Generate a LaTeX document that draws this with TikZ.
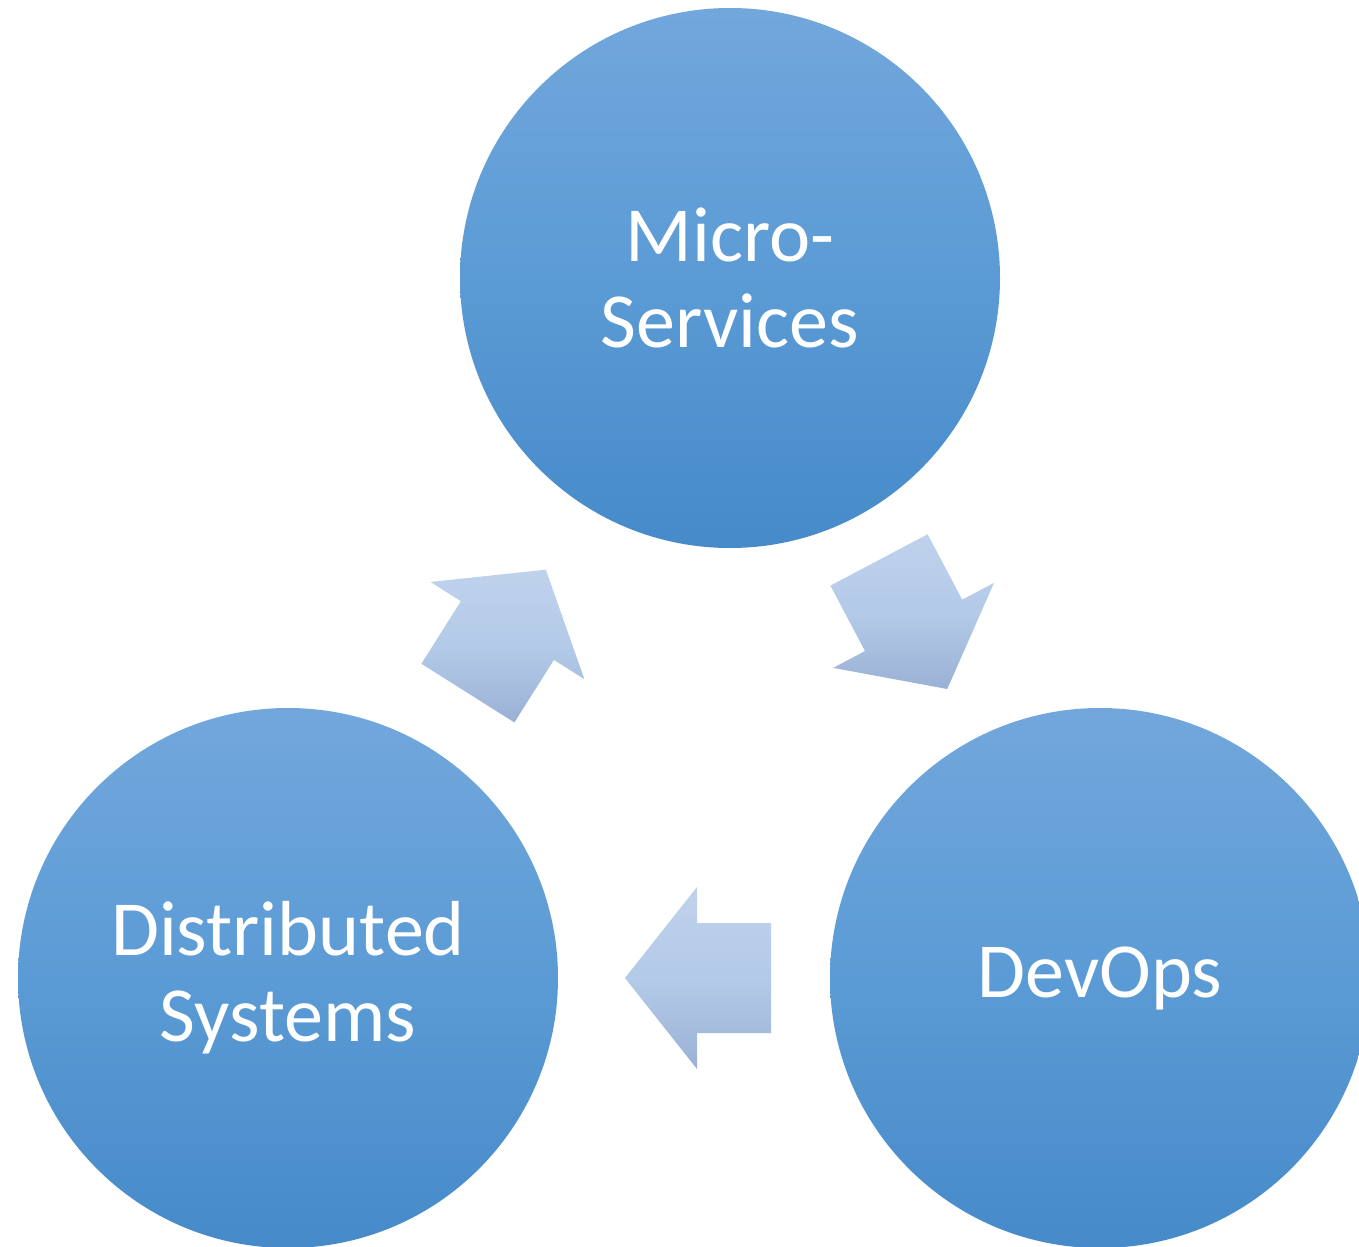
\documentclass[tikz,border=0pt]{standalone}
\usepackage{fontspec}
\setmainfont{Carlito}
\usetikzlibrary{calc}

\definecolor{bubbletop}{HTML}{72A7DC}
\definecolor{bubblemid}{HTML}{5B9BD5}
\definecolor{bubblebot}{HTML}{468AC9}
\definecolor{flowtop}{HTML}{BFD2EC}
\definecolor{flowmid}{HTML}{B3CAE8}
\definecolor{flowbot}{HTML}{9AB1D5}

\begin{document}
\begin{tikzpicture}[
        bubble/.style={circle,minimum size=5.4cm,inner sep=0pt,
            top color=bubbletop,bottom color=bubblebot,middle color=bubblemid,
            text=white,align=center,font=\fontsize{22.2}{24.5}\selectfont},
        flow/.style={top color=flowtop,bottom color=flowbot,middle color=flowmid,draw=none}]

    \useasboundingbox (0,0) rectangle (13.59,12.46);
    \clip (0,0) rectangle (13.59,12.46);

    \node[bubble] (micro) at (7.30,9.68) {Micro-\\Services};
    \node[bubble] (dist) at (2.88,2.68) {Distributed\\Systems};
    \node[bubble] (devops) at (11.00,2.68) {DevOps};

    % block arrows between the bubbles
    \foreach \from/\to in {dist/micro, micro/devops, devops/dist} {
        \coordinate (mid) at ($(\from.center)!0.5!(\to.center)$);
        \coordinate (tip) at ($(mid)!0.69cm!(\to.center)$);
        \coordinate (tail) at ($(mid)!0.77cm!(\from.center)$);
        \coordinate (neck) at ($(tip)!0.72cm!(mid)$);
        \shade[flow] ($(tail)!0.55cm!90:(tip)$) -- ($(neck)!0.55cm!90:(tip)$)
            -- ($(neck)!0.91cm!90:(tip)$) -- (tip)
            -- ($(neck)!0.91cm!-90:(tip)$) -- ($(neck)!0.55cm!-90:(tip)$)
            -- ($(tail)!0.55cm!-90:(tip)$) -- cycle;
    }
\end{tikzpicture}
\end{document}
